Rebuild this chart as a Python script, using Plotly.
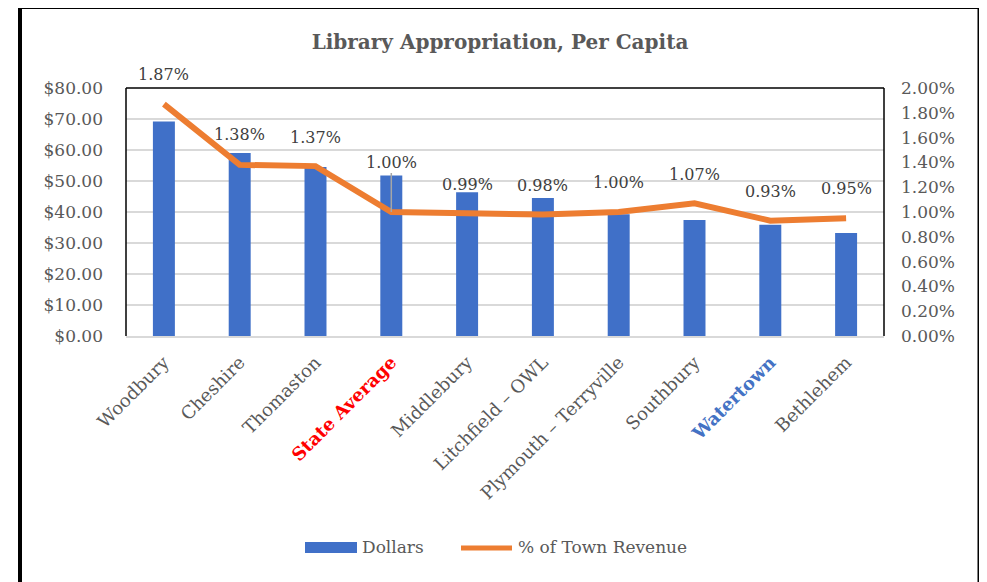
import plotly.graph_objects as go

categories = ["Woodbury", "Cheshire", "Thomaston", "State Average", "Middlebury",
              "Litchfield - OWL", "Plymouth - Terryville", "Southbury", "Watertown", "Bethlehem"]
tick_labels = ["Woodbury", "Cheshire", "Thomaston",
               "<span style='color:#FF0000'><b>State Average</b></span>", "Middlebury",
               "Litchfield – OWL", "Plymouth – Terryville", "Southbury",
               "<span style='color:#4472C4'><b>Watertown</b></span>", "Bethlehem"]
dollars = [69.2, 59.0, 54.5, 51.8, 46.4, 44.5, 39.3, 37.4, 35.9, 33.2]
pct_revenue = [1.87, 1.38, 1.37, 1.00, 0.99, 0.98, 1.00, 1.07, 0.93, 0.95]
pct_labels = ["1.87%", "1.38%", "1.37%", "1.00%", "0.99%", "0.98%", "1.00%", "1.07%", "0.93%", "0.95%"]
dollar_ticks = [0, 10, 20, 30, 40, 50, 60, 70, 80]
pct_ticks = [0, 0.2, 0.4, 0.6, 0.8, 1.0, 1.2, 1.4, 1.6, 1.8, 2.0]
legend_names = ["Dollars", "% of Town Revenue"]

# label placement (style only): pixel offset above each point
label_offsets = [30, 30, 29, 50, 29, 29, 30, 29, 29, 30]

FONT = "DejaVu Serif"
GRAY = "#595959"
BLUE = "#4070C8"
ORANGE = "#ED7D31"

OFF = 8  # page body margin
W, H = 987, 582
L, T = 126 - OFF, 88 - OFF
R = W - (884 - OFF)
B = H - (336 - OFF)
PW, PH = W - L - R, H - T - B


def px(x):
    return (x - OFF - L) / PW


def py(y):
    return (H - B - (y - OFF)) / PH


fig = go.Figure()
fig.add_trace(go.Bar(
    x=categories, y=dollars, name=legend_names[0],
    marker=dict(color=BLUE, line=dict(width=0)),
    width=0.29, yaxis="y", showlegend=False,
))
fig.add_trace(go.Scatter(
    x=categories, y=pct_revenue, name=legend_names[1],
    mode="lines", line=dict(color=ORANGE, width=6),
    yaxis="y2", showlegend=False,
))

for c, v, t, off in zip(categories, pct_revenue, pct_labels, label_offsets):
    if off > 35:
        fig.add_annotation(x=c, y=v, xref="x", yref="y2", text=t, showarrow=True,
                           arrowhead=0, arrowwidth=1.5, arrowcolor="#A6A6A6",
                           ax=0, ay=-off, standoff=0,
                           font=dict(family=FONT, size=16, color="#404040"))
    else:
        fig.add_annotation(x=c, y=v, xref="x", yref="y2", text=t, showarrow=False,
                           yshift=off, font=dict(family=FONT, size=16, color="#404040"))

# custom legend
fig.add_annotation(x=px(360), y=py(547), xref="paper", yref="paper", text=legend_names[0],
                   showarrow=False, xanchor="left", yanchor="middle",
                   font=dict(family=FONT, size=17, color=GRAY))
fig.add_annotation(x=px(516), y=py(547), xref="paper", yref="paper", text=legend_names[1],
                   showarrow=False, xanchor="left", yanchor="middle",
                   font=dict(family=FONT, size=17, color=GRAY))

fig.update_layout(
    width=W, height=H,
    margin=dict(l=L, r=R, t=T, b=B, autoexpand=False),
    paper_bgcolor="white", plot_bgcolor="white",
    title=dict(text="<b>Library Appropriation, Per Capita</b>", x=(500 - OFF) / W,
               xanchor="center", y=1 - (42 - OFF) / H, yanchor="middle",
               font=dict(family=FONT, size=20, color=GRAY)),
    xaxis=dict(tickmode="array", tickvals=categories, ticktext=tick_labels,
               tickangle=-45, tickfont=dict(family=FONT, size=18, color=GRAY),
               showgrid=False, showline=True, linecolor="#D9D9D9", linewidth=1.5,
               ticks="", automargin=False, ticklabelstandoff=7),
    yaxis=dict(range=[0, 80], tickvals=dollar_ticks,
               ticktext=["$%.2f" % v for v in dollar_ticks],
               tickfont=dict(family=FONT, size=17, color=GRAY),
               showgrid=True, gridcolor="#D9D9D9", gridwidth=1.5,
               zeroline=False, showline=False, ticks="", ticklabelstandoff=22,
               automargin=False),
    yaxis2=dict(range=[0, 2.0], overlaying="y", side="right", tickvals=pct_ticks,
                ticktext=["%.2f%%" % v for v in pct_ticks],
                tickfont=dict(family=FONT, size=17, color=GRAY),
                showgrid=False, zeroline=False, showline=False, ticks="",
                ticklabelstandoff=16, automargin=False),
    showlegend=False,
    shapes=[
        # plot-area border: left, top, right
        dict(type="line", xref="paper", yref="paper", x0=0, x1=0, y0=0, y1=1,
             line=dict(color="black", width=1.5), layer="above"),
        dict(type="line", xref="paper", yref="paper", x0=0, x1=1, y0=1, y1=1,
             line=dict(color="black", width=1.5), layer="above"),
        dict(type="line", xref="paper", yref="paper", x0=1, x1=1, y0=0, y1=1,
             line=dict(color="black", width=1.5), layer="above"),
        # outer chart frame
        dict(type="rect", xref="paper", yref="paper",
             x0=px(20), x1=px(979.5), y0=py(600), y1=py(7),
             line=dict(color="black", width=4)),
        # legend swatches
        dict(type="rect", xref="paper", yref="paper",
             x0=px(305), x1=px(357), y0=py(553), y1=py(542),
             fillcolor=BLUE, line=dict(width=0)),
        dict(type="line", xref="paper", yref="paper",
             x0=px(461), x1=px(512), y0=py(548), y1=py(548),
             line=dict(color=ORANGE, width=5)),
    ],
)

fig.write_html("out.html")
